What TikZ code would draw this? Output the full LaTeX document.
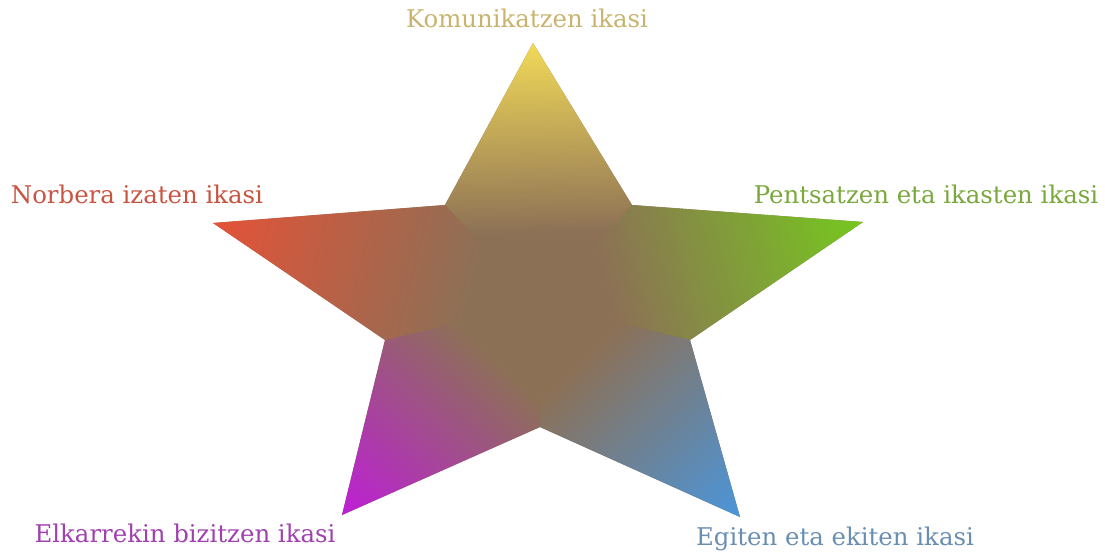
\documentclass[tikz,border=0pt]{standalone}
\usepackage{fontspec}
\setmainfont{DejaVu Serif}
\usetikzlibrary{calc}
\definecolor{StarMid}{RGB}{140,112,86}
\definecolor{TipYellow}{RGB}{242,218,88}
\definecolor{TipGreen}{RGB}{118,200,30}
\definecolor{TipBlue}{RGB}{74,150,220}
\definecolor{TipMagenta}{RGB}{190,30,215}
\definecolor{TipRed}{RGB}{228,82,55}
\definecolor{TxtGold}{RGB}{200,180,110}
\definecolor{TxtRed}{RGB}{200,85,65}
\definecolor{TxtGreen}{RGB}{122,168,60}
\definecolor{TxtPurple}{RGB}{160,65,175}
\definecolor{TxtBlue}{RGB}{105,142,178}
\tikzset{
  lbl/.style={
    anchor=base,
    inner sep=0pt,
    font=\fontsize{12.2}{14}\selectfont
  }
}

\begin{document}
\begin{tikzpicture}[x=0.5pt,y=-0.5pt]
  \useasboundingbox (0,0) rectangle (1105,552);
  % star points
  \coordinate (c) at (538,304);
  \coordinate (t0) at (533,43);
  \coordinate (t1) at (863,222);
  \coordinate (t2) at (740,517);
  \coordinate (t3) at (342,515);
  \coordinate (t4) at (213,223);
  \coordinate (i01) at (632,205);
  \coordinate (i12) at (690,340);
  \coordinate (i23) at (540,427);
  \coordinate (i34) at (385,340);
  \coordinate (i40) at (445,205);

  \fill[StarMid] (t0) -- (i01) -- (t1) -- (i12) -- (t2) -- (i23) -- (t3) -- (i34) -- (t4) -- (i40) -- cycle;
  \foreach \t/\a/\b/\col/\ang/\len in {t0/i40/i01/TipYellow/91.1/262,
      t1/i01/i12/TipGreen/14.2/336, t2/i12/i23/TipBlue/-46.5/295,
      t3/i23/i34/TipMagenta/-132.9/289, t4/i34/i40/TipRed/166.0/336} {
    \begin{scope}
      \clip (\t) -- (\a) -- (c) -- (\b) -- cycle;
      \shade[transform canvas={shift={(c)},rotate=\ang}, left color=StarMid, right color=\col]
        (70,-200) rectangle (\len,200);
    \end{scope}
  }

  \node[lbl, text=TxtGold] (komun) at (527,27) {Komunikatzen ikasi};
  \node[lbl, text=TxtRed] (norbera) at (137,203) {Norbera izaten ikasi};
  \node[lbl, text=TxtGreen] (pents) at (926,203) {Pentsatzen eta ikasten ikasi};
  \node[lbl, text=TxtPurple] (elkar) at (185,542) {Elkarrekin bizitzen ikasi};
  \node[lbl, text=TxtBlue] (egiten) at (835,545) {Egiten eta ekiten ikasi};
\end{tikzpicture}
\end{document}
